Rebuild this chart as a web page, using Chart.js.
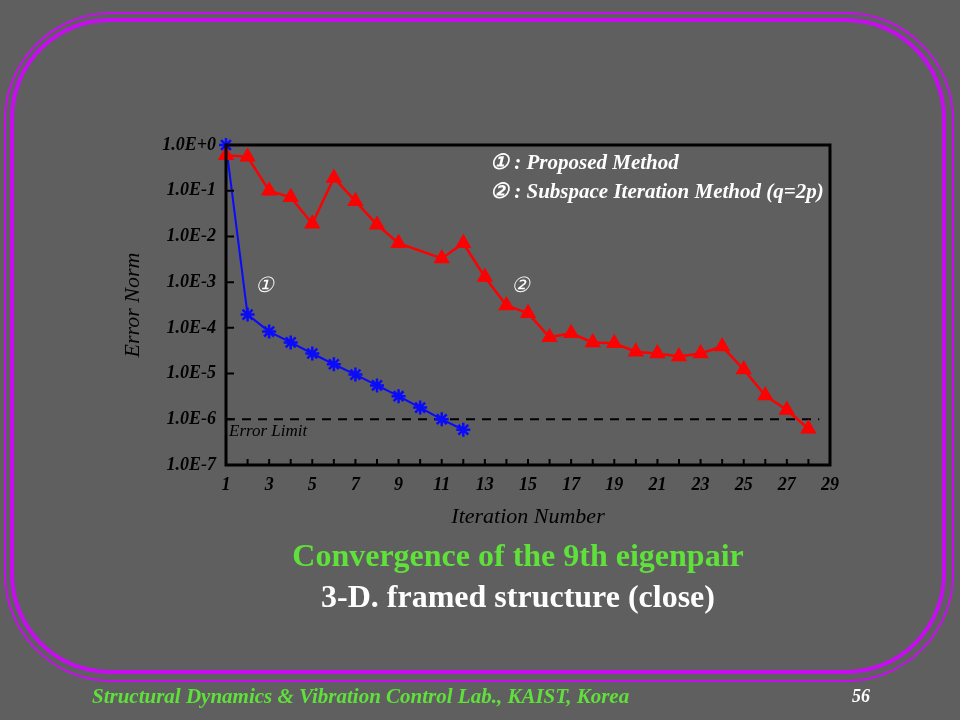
<!DOCTYPE html>
<html>
<head>
<meta charset="utf-8">
<script src="https://cdn.jsdelivr.net/npm/chart.js@4/dist/chart.umd.min.js"></script>
<style>
    body { margin: 0; width: 960px; height: 720px; background: #5f5f5f; overflow: hidden; position: relative; font-family: "Liberation Serif", serif; }
    .frame { position: absolute; border-style: solid; border-color: #c80cf2; box-sizing: border-box; }
    #outer { left: 4px; top: 12px; width: 950px; height: 670px; border-width: 2px; border-radius: 108px; }
    #inner { left: 10px; top: 18px; width: 936px; height: 656px; border-width: 4px; border-radius: 100px; }
    #chart { position: absolute; left: 0; top: 0; }
    .txt { position: absolute; white-space: nowrap; }
    #legend { left: 490px; top: 148px; color: #fff; font-weight: bold; font-style: italic; font-size: 21px; line-height: 29px; }
    #title1 { left: 0; width: 1036px; text-align: center; top: 537px; color: #5fe03a; font-weight: bold; font-size: 32px; }
    #title2 { left: 0; width: 1036px; text-align: center; top: 578px; color: #fff; font-weight: bold; font-size: 32px; }
    #footer { left: 92px; top: 684px; color: #5fe03a; font-weight: bold; font-style: italic; font-size: 21px; }
    #page { left: 852px; top: 686px; color: #fff; font-weight: bold; font-style: italic; font-size: 18px; }
</style>
</head>
<body>
<div id="outer" class="frame"></div>
<div id="inner" class="frame"></div>
<canvas id="chart" width="960" height="720"></canvas>
<div id="legend" class="txt">① : Proposed Method<br>② : Subspace Iteration Method (q=2p)</div>
<div id="title1" class="txt">Convergence of the 9th eigenpair</div>
<div id="title2" class="txt">3-D. framed structure (close)</div>
<div id="footer" class="txt">Structural Dynamics &amp; Vibration Control Lab., KAIST, Korea</div>
<div id="page" class="txt">56</div>
<script>
// ① Proposed Method
const proposedIter = [1, 2, 3, 4, 5, 6, 7, 8, 9, 10, 11, 12];
const proposedErr = [1.0, 1.95e-4, 8.3e-5, 4.8e-5, 2.75e-5, 1.6e-5, 9.5e-6, 5.5e-6, 3.2e-6, 1.8e-6, 1.0e-6, 5.9e-7];

// ② Subspace Iteration Method (q=2p) - no point at iteration 10
const subspaceIter = [1, 2, 3, 4, 5, 6, 7, 8, 9, 11, 12, 13, 14, 15, 16, 17, 18, 19, 20, 21, 22, 23, 24, 25, 26, 27, 28];
const subspaceErr = [0.6, 0.55, 0.1, 0.072, 0.019, 0.19, 0.059, 0.018, 0.0071, 0.0033, 0.0071, 0.0013,
    3.1e-4, 2.1e-4, 6.2e-5, 7.6e-5, 4.8e-5, 4.6e-5, 3.0e-5, 2.75e-5, 2.35e-5, 2.75e-5, 3.9e-5, 1.23e-5, 3.3e-6, 1.6e-6, 6.2e-7];

// Error limit
const limitIter = [1, 28.5];
const limitErr = [1e-6, 1e-6];

const yTicks = [1, 1e-1, 1e-2, 1e-3, 1e-4, 1e-5, 1e-6, 1e-7];
const xTicks = [1, 2, 3, 4, 5, 6, 7, 8, 9, 10, 11, 12, 13, 14, 15, 16, 17, 18, 19, 20, 21, 22, 23, 24, 25, 26, 27, 28, 29];

function toPoints(xs, ys) {
    return xs.map((x, i) => ({ x: x, y: ys[i] }));
}

// inside tick marks, frame and labels on the plot
const framePlugin = {
    id: 'frame',
    afterDatasetsDraw(chart) {
        const ctx = chart.ctx;
        const a = chart.chartArea;
        const xs = chart.scales.x, ys = chart.scales.y;
        ctx.save();
        ctx.strokeStyle = '#000';
        ctx.lineWidth = 3;
        ctx.strokeRect(a.left, a.top, a.right - a.left, a.bottom - a.top);
        ctx.lineWidth = 2;
        ctx.beginPath();
        yTicks.forEach(v => {
            const py = ys.getPixelForValue(v);
            ctx.moveTo(a.left, py);
            ctx.lineTo(a.left + 8, py);
        });
        xTicks.forEach(v => {
            const px = xs.getPixelForValue(v);
            ctx.moveTo(px, a.bottom);
            ctx.lineTo(px, a.bottom - 6);
        });
        ctx.stroke();

        ctx.fillStyle = '#000';
        ctx.font = 'italic 17px "Liberation Serif"';
        ctx.textBaseline = 'middle';
        ctx.fillText('Error Limit', a.left + 3, ys.getPixelForValue(1e-6) + 12);

        ctx.fillStyle = '#fff';
        ctx.font = 'italic 21px "Liberation Serif"';
        ctx.textAlign = 'center';
        ctx.fillText('①', xs.getPixelForValue(2.8), ys.getPixelForValue(8e-4));
        ctx.fillText('②', xs.getPixelForValue(14.65), ys.getPixelForValue(8e-4));
        ctx.restore();
    }
};

const tickFont = { family: '"Liberation Serif"', size: 18, weight: 'bold', style: 'italic' };
const titleFont = { family: '"Liberation Serif"', size: 22, style: 'italic' };

new Chart(document.getElementById('chart'), {
    type: 'line',
    data: {
        datasets: [
            {
                data: toPoints(subspaceIter, subspaceErr),
                borderColor: '#ff0000',
                backgroundColor: '#ff0000',
                borderWidth: 2.5,
                pointStyle: 'triangle',
                pointRadius: 7,
                clip: false
            },
            {
                data: toPoints(proposedIter, proposedErr),
                borderColor: '#0a0aff',
                backgroundColor: '#0a0aff',
                borderWidth: 2,
                pointStyle: 'star',
                pointRadius: 7,
                pointBorderWidth: 2.5,
                clip: false
            },
            {
                data: toPoints(limitIter, limitErr),
                borderColor: '#000',
                borderWidth: 2,
                borderDash: [9, 7],
                pointRadius: 0
            }
        ]
    },
    options: {
        responsive: false,
        animation: false,
        layout: { padding: { left: 110, top: 145, right: 130, bottom: 185 } },
        plugins: { legend: { display: false }, tooltip: { enabled: false } },
        scales: {
            x: {
                type: 'linear',
                min: 1,
                max: 29,
                afterBuildTicks: scale => { scale.ticks = xTicks.map(v => ({ value: v })); },
                afterFit: scale => { scale.height = 70; },
                grid: { display: false, drawTicks: false },
                border: { display: false },
                ticks: {
                    color: '#000',
                    font: tickFont,
                    padding: 10,
                    maxRotation: 0,
                    autoSkip: false,
                    callback: v => (v % 2 === 1 ? String(v) : '')
                },
                title: { display: true, text: 'Iteration Number', color: '#000', font: titleFont, padding: { top: 4, bottom: 5 } }
            },
            y: {
                type: 'logarithmic',
                min: 1e-7,
                max: 1,
                afterBuildTicks: scale => { scale.ticks = yTicks.map(v => ({ value: v })); },
                afterFit: scale => { scale.width = 116; },
                grid: { display: false, drawTicks: false },
                border: { display: false },
                ticks: {
                    color: '#000',
                    font: tickFont,
                    padding: 10,
                    autoSkip: false,
                    callback: v => {
                        const e = Math.round(Math.log10(v));
                        return '1.0E' + (e === 0 ? '+0' : e);
                    }
                },
                title: { display: true, text: 'Error Norm', color: '#000', font: titleFont, padding: { top: 10, bottom: 0 } }
            }
        }
    },
    plugins: [framePlugin]
});
</script>
</body>
</html>
